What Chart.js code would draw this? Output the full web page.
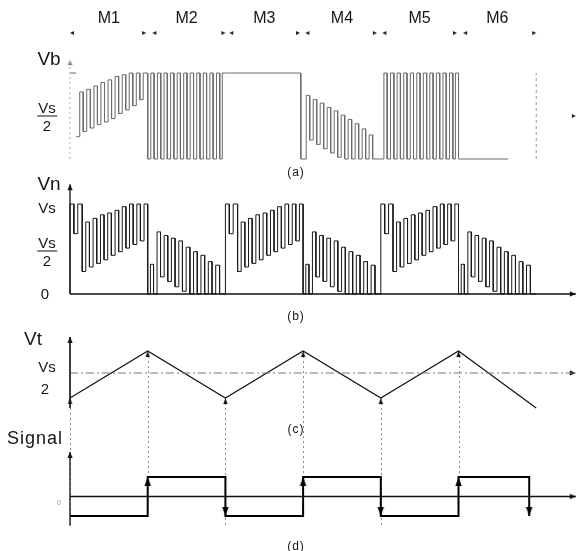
<!DOCTYPE html>
<html><head><meta charset="utf-8">
<script src="https://cdn.jsdelivr.net/npm/chart.js@4.4.1/dist/chart.umd.min.js"></script>
<style>
html,body{margin:0;padding:0;background:#fff;}
#wrap{position:relative;width:577px;height:551px;overflow:hidden;background:#fff;}
#c{position:absolute;left:0;top:0;}
.lb{position:absolute;font-family:"Liberation Sans",Arial,Helvetica,sans-serif;color:#151515;white-space:nowrap;line-height:1;transform:translate(-50%,-50%);text-align:center;}
.frac span{display:block;}
.frac .num{border-bottom:1.5px solid #151515;padding:0 1px 1px;margin-bottom:1px;}
</style></head><body>
<div id="wrap"><canvas id="c" width="577" height="551"></canvas></div>
<script>
// ---------------- data ----------------
const modes = ['M1','M2','M3','M4','M5','M6'];
const modeStart = [0,1,2,3,4,5];
const modeArrowRight = [0.98,2.00,2.96,3.95,4.98,6.00];
const modeArrowLeft  = [0.00,1.06,2.05,3.03,4.02,5.06];

// (a) Vb, fraction of Vs; times relative to the start of each mode interval
const vbLeadT = [0.000,0.080];
const vbLeadV = [1.00,1.00];
const vbM1T = [0.080,0.125,0.170,0.215,0.262,0.308,0.353,0.398,0.444,0.490,0.535,0.580,0.626,0.672,0.717,0.762,0.808,0.853,0.898,0.942];
const vbM1V = [0.26,0.78,0.32,0.81,0.36,0.85,0.40,0.89,0.43,0.92,0.47,0.96,0.53,0.98,0.57,1.00,0.62,1.00,0.69,1.00];
const vbDenseT = [0.000,0.040,0.082,0.125,0.168,0.210,0.252,0.295,0.337,0.380,0.421,0.463,0.505,0.547,0.590,0.631,0.673,0.715,0.758,0.800,0.842,0.885,0.927,0.960];
const vbDenseV = [0,1,0,1,0,1,0,1,0,1,0,1,0,1,0,1,0,1,0,1,0,1,0,1];
const vbM3T = [0.000,0.970];
const vbM3V = [1.00,0.00];
const vbM4T = [0.040,0.085,0.130,0.175,0.220,0.265,0.310,0.355,0.400,0.445,0.490,0.535,0.580,0.625,0.670,0.715,0.760,0.805,0.850,0.895];
const vbM4V = [0.74,0.22,0.69,0.17,0.65,0.12,0.60,0.07,0.56,0.02,0.51,0.00,0.46,0.00,0.41,0.00,0.35,0.00,0.28,0.00];
const vbM6T = [0.000,0.640];
const vbM6V = [0.00,0.00];
const vbEndT = [6.0,6.0];
const vbEndV = [0.00,1.00];

// (b) Vn, fraction of Vs
const vnRiseT = [0.000,0.050,0.100,0.157,0.203,0.250,0.297,0.344,0.392,0.438,0.485,0.532,0.580,0.626,0.672,0.720,0.766,0.813,0.860,0.906,0.953];
const vnRiseV = [1.00,0.67,1.00,0.25,0.80,0.30,0.84,0.34,0.88,0.38,0.90,0.43,0.93,0.47,0.97,0.51,1.00,0.55,1.00,0.59,1.00];
const vnFallT = [0.000,0.035,0.075,0.120,0.165,0.212,0.258,0.305,0.352,0.400,0.447,0.495,0.543,0.590,0.638,0.685,0.733,0.780,0.828,0.875,0.925];
const vnFallV = [0.00,0.33,0.00,0.69,0.19,0.65,0.14,0.62,0.08,0.59,0.03,0.52,0.00,0.47,0.00,0.43,0.00,0.36,0.00,0.32,0.00];

// (c) Vt
const vtT = [0,1,2,3,4,5,6];
const vtV = [0.222,0.744,0.222,0.744,0.222,0.744,0.111];
const vtHalf = 0.5;

// (d) Signal
const sigT = [0,1,2,3,4,5,5.91];
const sigV = [-1,1,-1,1,-1,1,-1];

// ---------------- layout constants ----------------
const H = 551;
const X_MIN = -0.901, X_MAX = 6.525, X_END = 6.51;
function range(v0, p0, k){ return {min: v0 - (H - p0)/k, max: v0 + p0/k}; }
const rA = range(0, 159, 86);     // Vb
const rB = range(0, 294, 90);     // Vn
const rC = range(0.5, 373, 90);   // Vt
const rD = range(0, 496.5, 19.5); // Signal
const markerLevel = 1.465, vbAxisTop = 1.15, vnAxisTop = 1.22, vtAxisTop = 0.9, sigAxisTop = 2.28, sigAxisBottom = -1.5;

// ---------------- build ----------------
// each point = (start time of a level, level); drawn as a step that holds the level until the next point
const pts = (off, T, V) => T.map((t,i)=>({x: off + t, y: V[i]}));
function stepSeries(list){
  // convert "level starts at t" points into corner points for the line
  const out = [];
  list.forEach((p,i)=>{
    if (p.y === null) { out.push({x:p.x, y:null}); return; }
    const prev = out.length ? out[out.length-1] : null;
    if (prev && prev.y !== null) out.push({x:p.x, y:prev.y});
    out.push({x:p.x, y:p.y});
  });
  return out;
}
const vbData = stepSeries([].concat(pts(0,vbLeadT,vbLeadV), [{x:vbM1T[0], y:null}],
  pts(0,vbM1T,vbM1V), pts(1,vbDenseT,vbDenseV), pts(2,vbM3T,vbM3V),
  pts(3,vbM4T,vbM4V), pts(4,vbDenseT,vbDenseV), pts(5,vbM6T,vbM6V)));
let vnList = [{x:0,y:0}];
modeStart.forEach((s,i)=>{ vnList = vnList.concat(i%2===0 ? pts(s,vnRiseT,vnRiseV) : pts(s,vnFallT,vnFallV)); });
vnList.push({x:6,y:0});
const vnData = stepSeries(vnList);
const vtData = pts(0, vtT, vtV);
const sigData = stepSeries(pts(0, sigT, sigV));

function arrowImg(len, half, color){
  const c = document.createElement('canvas');
  const w = Math.ceil(half*2)+2, h = Math.ceil(len*2)+2;
  c.width = w; c.height = h;
  const g = c.getContext('2d'); g.fillStyle = color;
  g.beginPath(); g.moveTo(w/2, h/2); g.lineTo(w/2+half, h/2+len); g.lineTo(w/2-half, h/2+len); g.closePath(); g.fill();
  return c;
}
const IMG = { s: arrowImg(6,2.6,'#111'), m: arrowImg(4,2,'#222'), g: arrowImg(5,2.4,'#777'), b: arrowImg(9,3.2,'#000'), v: arrowImg(6,2.2,'#111') };

const arrowsA = [{x:0,y:vbAxisTop,r:0,k:'g'},{x:X_END,y:0.5,r:90,k:'m'}]
  .concat(modeArrowRight.map(t=>({x:t,y:markerLevel,r:90,k:'m'})))
  .concat(modeArrowLeft.map(t=>({x:t,y:markerLevel,r:270,k:'m'})));
const arrowsB = [{x:0,y:vnAxisTop,r:0,k:'s'},{x:X_END,y:0,r:90,k:'s'}];
const arrowsC = [{x:0,y:vtAxisTop,r:0,k:'s'},{x:X_END,y:vtHalf,r:90,k:'s'}]
  .concat(vtT.slice(0,6).map((t,i)=>({x:t,y:vtV[i],r:0,k:'v'})));
const arrowsD = [{x:0,y:sigAxisTop,r:0,k:'s'},{x:X_END,y:0,r:90,k:'s'}]
  .concat(sigT.slice(1).map((t,i)=>({x:t,y:sigV[i+1],r:sigV[i+1]>0?0:180,k:'b'})));

function line(data, axis, color, width, extra){
  return Object.assign({data, yAxisID: axis, showLine:true, borderColor: color, borderWidth: width, pointRadius:0, fill:false, spanGaps:false}, extra||{});
}
function arrows(data, axis){
  return {data, yAxisID: axis, showLine:false, pointRadius:3, pointStyle: c=>IMG[c.raw.k], pointRotation: c=>c.raw.r};
}

const connectors = {
  id:'connectors',
  beforeDatasetsDraw(chart){
    const {ctx, scales} = chart;
    ctx.save(); ctx.strokeStyle = '#8c8c8c'; ctx.lineWidth = 1; ctx.setLineDash([2,3]);
    vtT.slice(0,6).forEach((t,i)=>{
      const px = Math.round(scales.x.getPixelForValue(t)) + 0.5;
      const y1 = scales.yC.getPixelForValue(vtV[i]);
      const end = sigV[i] > 0 ? sigV[i] : sigAxisBottom;
      const y2 = scales.yD.getPixelForValue(end);
      ctx.beginPath(); ctx.moveTo(px, y1); ctx.lineTo(px, y2); ctx.stroke();
    });
    ctx.restore();
  }
};

const hid = (r)=>({type:'linear', display:false, min:r.min, max:r.max});
const chart = new Chart(document.getElementById('c'), {
  type:'scatter',
  data:{ datasets:[
    line([{x:0,y:0},{x:0,y:vbAxisTop}], 'yA', '#b0b0b0', 1, {borderDash:[2,3]}),
    line(vbData, 'yA', '#6a6a6a', 1),
    line(pts(0,vbEndT,vbEndV), 'yA', '#999', 1, {borderDash:[3,3]}),
    arrows(arrowsA, 'yA'),
    line([{x:0,y:0},{x:0,y:vnAxisTop}], 'yB', '#111', 1.3),
    line([{x:0,y:0},{x:X_END,y:0}], 'yB', '#111', 1.3),
    line(vnData, 'yB', '#1a1a1a', 1),
    arrows(arrowsB, 'yB'),
    line([{x:0,y:vtV[6]},{x:0,y:vtAxisTop}], 'yC', '#111', 1.6),
    line([{x:0,y:vtHalf},{x:X_END,y:vtHalf}], 'yC', '#7a7a7a', 1, {borderDash:[8,3,2,3]}),
    line(vtData, 'yC', '#111', 1.2),
    arrows(arrowsC, 'yC'),
    line([{x:0,y:sigAxisBottom},{x:0,y:sigAxisTop}], 'yD', '#111', 1.3),
    line([{x:0,y:0},{x:X_END,y:0}], 'yD', '#111', 1.6),
    line(sigData, 'yD', '#000', 2),
    arrows(arrowsD, 'yD')
  ]},
  options:{
    responsive:false, animation:false, events:[], devicePixelRatio:1,
    layout:{padding:0, autoPadding:false},
    plugins:{legend:{display:false}, tooltip:{enabled:false}},
    elements:{line:{tension:0}},
    scales:{
      x:{type:'linear', display:false, min:X_MIN, max:X_MAX},
      yA:hid(rA), yB:hid(rB), yC:hid(rC), yD:hid(rD)
    }
  },
  plugins:[connectors]
});

// ---------------- text ----------------
const wrap = document.getElementById('wrap');
function label(html, x, y, size, cls, extra){
  const d = document.createElement('div');
  d.className = 'lb' + (cls ? ' ' + cls : '');
  d.innerHTML = html; d.style.left = x + 'px'; d.style.top = y + 'px'; d.style.fontSize = size + 'px';
  if (extra) Object.assign(d.style, extra);
  wrap.appendChild(d);
}
modes.forEach((m,i)=> label(m, chart.scales.x.getPixelForValue(modeStart[i] + 0.5), 18, 16));
label('Vb', 49, 58, 19);
label('<span class="num">Vs</span><span>2</span>', 47, 116, 15, 'frac');
label('(a)', 296, 172, 12, '', {letterSpacing:'1px'});
label('Vn', 49, 183, 19);
label('Vs', 47, 207, 15);
label('<span class="num">Vs</span><span>2</span>', 47, 251, 15, 'frac');
label('0', 45, 293, 15);
label('(b)', 296, 316, 12, '', {letterSpacing:'1px'});
label('Vt', 33, 338, 19);
label('Vs', 47, 366, 15);
label('2', 45, 388, 15);
label('(c)', 296, 429, 12, '', {letterSpacing:'1px'});
label('Signal', 35, 438, 18, '', {letterSpacing:'1px'});
label('0', 59, 502, 7, '', {color:'#999'});
label('(d)', 296, 546, 12, '', {letterSpacing:'1px'});
</script>
</body></html>
